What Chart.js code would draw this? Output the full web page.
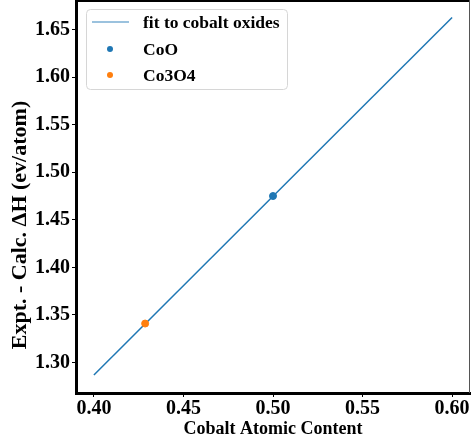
<!DOCTYPE html>
<html>
<head>
<meta charset="utf-8">
<script src="https://cdn.jsdelivr.net/npm/chart.js@4.4.0/dist/chart.umd.min.js"></script>
<style>
  html, body { margin: 0; padding: 0; background: #fff; }
  canvas { display: block; }
</style>
</head>
<body>
<canvas id="chart" width="471" height="443"></canvas>
<script>
// data
const fitX = [0.40, 0.60];
const fitY = [1.287, 1.6626];
const cooX = [0.50];
const cooY = [1.475];
const co3o4X = [0.4286];
const co3o4Y = [1.341];

const xTicks = [0.40, 0.45, 0.50, 0.55, 0.60];
const yTicks = [1.30, 1.35, 1.40, 1.45, 1.50, 1.55, 1.60, 1.65];

const labels = ["fit to cobalt oxides", "CoO", "Co3O4"];
const yTitle = "Expt. - Calc. ΔH (ev/atom)";

const FONT = "'Liberation Serif', 'Times New Roman', serif";

function pts(xs, ys) {
    return xs.map((x, i) => ({ x: x, y: ys[i] }));
}

// matplotlib-style legend box, top/right spines, y label (sits low in the original)
const frameAndLegend = {
    id: "frameAndLegend",
    afterDraw(chart) {
        const ctx = chart.ctx;
        const a = chart.chartArea;
        ctx.save();
        // top spine
        ctx.strokeStyle = "#000";
        ctx.lineWidth = 2;
        ctx.beginPath();
        ctx.moveTo(a.left, a.top + 1);
        ctx.lineTo(a.right, a.top + 1);
        ctx.stroke();
        // right spine (thin, partly cut)
        ctx.strokeStyle = "#555";
        ctx.lineWidth = 1;
        ctx.beginPath();
        ctx.moveTo(a.right - 0.5, a.top);
        ctx.lineTo(a.right - 0.5, a.bottom);
        ctx.stroke();

        // y axis title
        ctx.save();
        ctx.translate(20, 225);
        ctx.rotate(-Math.PI / 2);
        ctx.font = "bold 22px " + FONT;
        ctx.fillStyle = "#000";
        ctx.textAlign = "center";
        ctx.textBaseline = "middle";
        ctx.fillText(yTitle, 0, 0);
        ctx.restore();

        // legend
        const bx = 86, by = 9, bw = 201, bh = 80, r = 4;
        ctx.fillStyle = "rgba(255,255,255,0.85)";
        ctx.strokeStyle = "#d6d6d6";
        ctx.lineWidth = 1;
        ctx.beginPath();
        ctx.roundRect(bx + 0.5, by + 0.5, bw, bh, r);
        ctx.fill();
        ctx.stroke();

        const rows = [22, 49, 75];
        const ds = chart.data.datasets;
        ctx.font = "bold 17.5px " + FONT;
        ctx.textBaseline = "middle";
        ctx.fillStyle = "#000";
        rows.forEach((ry, i) => {
            const d = ds[i];
            if (i === 0) {
                ctx.strokeStyle = "rgba(31,119,180,0.6)";
                ctx.lineWidth = 1.5;
                ctx.beginPath();
                ctx.moveTo(92, ry);
                ctx.lineTo(129, ry);
                ctx.stroke();
            } else {
                ctx.fillStyle = d.backgroundColor;
                ctx.beginPath();
                ctx.arc(110, ry, 3, 0, Math.PI * 2);
                ctx.fill();
            }
            ctx.fillStyle = "#000";
            ctx.fillText(d.label, 143, ry + 1);
        });
        ctx.restore();
    }
};

new Chart(document.getElementById("chart"), {
    type: "scatter",
    data: {
        datasets: [
            {
                label: labels[0],
                data: pts(fitX, fitY),
                showLine: true,
                borderColor: "#1f77b4",
                backgroundColor: "#1f77b4",
                borderWidth: 1.5,
                pointRadius: 0,
                order: 2
            },
            {
                label: labels[1],
                data: pts(cooX, cooY),
                backgroundColor: "#1f77b4",
                borderColor: "#1f77b4",
                pointRadius: 3.5,
                order: 1
            },
            {
                label: labels[2],
                data: pts(co3o4X, co3o4Y),
                backgroundColor: "#ff7f0e",
                borderColor: "#ff7f0e",
                pointRadius: 3.5,
                order: 1
            }
        ]
    },
    options: {
        responsive: false,
        animation: false,
        layout: { autoPadding: false, padding: { top: 0, right: 1, left: 0, bottom: 0 } },
        plugins: {
            legend: { display: false },
            tooltip: { enabled: false }
        },
        scales: {
            x: {
                type: "linear",
                min: 0.39,
                max: 0.61,
                afterBuildTicks: s => { s.ticks = xTicks.map(v => ({ value: v })); },
                afterFit: s => {
                    s.height = 50;
                    s.paddingLeft = 0;
                    s.paddingRight = 0;
                },
                grid: { drawOnChartArea: false, tickLength: 4, tickColor: "#000", tickWidth: 1 },
                border: { color: "#000", width: 3 },
                ticks: {
                    color: "#000",
                    padding: 0,
                    maxRotation: 0,
                    font: { family: FONT, size: 20, weight: "bold" },
                    callback: v => v.toFixed(2)
                },
                title: {
                    display: true,
                    text: "Cobalt Atomic Content",
                    color: "#000",
                    padding: { top: 0, bottom: 3 },
                    font: { family: FONT, size: 18, weight: "bold" }
                }
            },
            y: {
                type: "linear",
                min: 1.268,
                max: 1.681,
                afterBuildTicks: s => { s.ticks = yTicks.map(v => ({ value: v })); },
                afterFit: s => {
                    s.width = 76;
                    s.paddingTop = 0;
                    s.paddingBottom = 0;
                },
                grid: { drawOnChartArea: false, tickLength: 4, tickColor: "#000", tickWidth: 1 },
                border: { color: "#000", width: 3 },
                ticks: {
                    color: "#000",
                    padding: 2,
                    font: { family: FONT, size: 20, weight: "bold" },
                    callback: v => v.toFixed(2)
                },
                title: { display: false }
            }
        }
    },
    plugins: [frameAndLegend]
});
</script>
</body>
</html>
